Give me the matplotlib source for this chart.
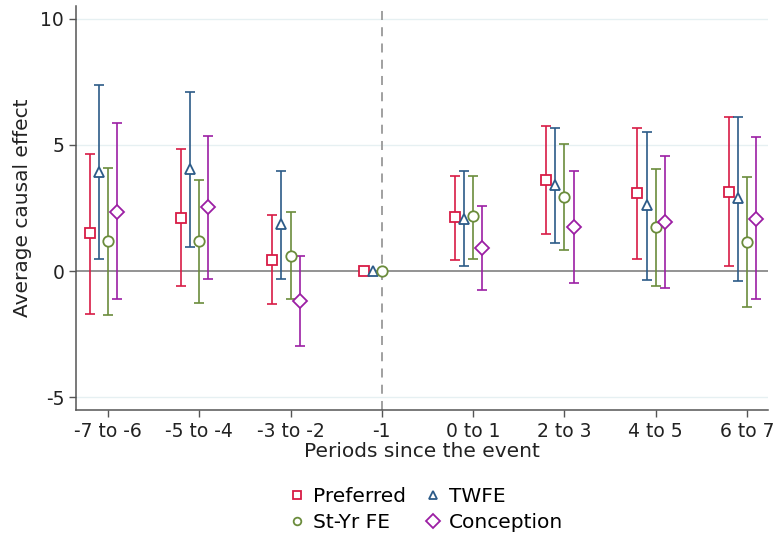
import matplotlib
matplotlib.use("Agg")
import matplotlib.pyplot as plt
from matplotlib.lines import Line2D

# periods since the event
periods = ["-7 to -6", "-5 to -4", "-3 to -2", "-1", "0 to 1", "2 to 3", "4 to 5", "6 to 7"]

# point estimates, lower and upper CI bounds (None = not estimated)
preferred = [1.52, 2.09, 0.45, 0.0, 2.13, 3.61, 3.08, 3.13]
preferred_lo = [-1.68, -0.60, -1.32, None, 0.42, 1.45, 0.48, 0.19]
preferred_hi = [4.63, 4.83, 2.23, None, 3.78, 5.73, 5.66, 6.12]

twfe = [3.94, 4.05, 1.87, 0.0, 2.08, 3.39, 2.62, 2.91]
twfe_lo = [0.48, 0.97, -0.30, None, 0.19, 1.10, -0.36, -0.41]
twfe_hi = [7.35, 7.10, 3.98, None, 3.98, 5.65, 5.49, 6.12]

styr = [1.20, 1.20, 0.60, 0.0, 2.18, 2.95, 1.73, 1.15]
styr_lo = [-1.75, -1.26, -1.12, None, 0.49, 0.85, -0.61, -1.43]
styr_hi = [4.10, 3.61, 2.35, None, 3.78, 5.05, 4.05, 3.72]

conception = [2.34, 2.53, -1.19, None, 0.90, 1.76, 1.93, 2.05]
conception_lo = [-1.12, -0.30, -2.98, None, -0.73, -0.48, -0.66, -1.12]
conception_hi = [5.85, 5.36, 0.60, None, 2.59, 3.97, 4.56, 5.29]

series = [
    ("Preferred", preferred, preferred_lo, preferred_hi, "#d81b45", "s", 7, 6, -0.2),
    ("TWFE", twfe, twfe_lo, twfe_hi, "#2c5b88", "^", 7.5, 6, -0.1),
    ("St-Yr FE", styr, styr_lo, styr_hi, "#6b8c3c", "o", 7.5, 5.5, 0.0),
    ("Conception", conception, conception_lo, conception_hi, "#9c1fa4", "D", 7.5, 7, 0.1),
]

fig = plt.figure(figsize=(7.75, 5.37), dpi=100)
ax = fig.add_axes([0.098, 0.2365, 0.893, 0.7525])

for y in [-5, 5, 10]:
    ax.axhline(y, color="#e6f0f2", lw=1.0, zorder=0)
ax.axhline(0, color="#8a8a8a", lw=1.3, zorder=1)
ax.axvline(3, color="#999999", lw=1.3, ls=(0, (5, 4)), zorder=1)

for name, est, lo, hi, color, marker, ms, lms, off in series:
    for i, v in enumerate(est):
        if v is None:
            continue
        x = i + off
        if lo[i] is not None:
            ax.errorbar(x, v, yerr=[[v - lo[i]], [hi[i] - v]], fmt="none",
                        ecolor=color, elinewidth=1.2, capsize=3.6, capthick=1.2, zorder=2)
        ax.plot(x, v, marker=marker, ms=ms, mfc="white", mec=color, mew=1.3,
                ls="none", zorder=3)

ax.set_xlim(-0.35, 7.23)
ax.set_ylim(-5.5, 10.5)
ax.set_xticks(range(len(periods)))
ax.set_xticklabels(periods)
ax.set_yticks([-5, 0, 5, 10])
ax.set_yticklabels(["-5", "0", "5", "10"])
ax.tick_params(labelsize=13.5, color="#555555", length=5, width=1, labelcolor="#222222")
for s in ["top", "right"]:
    ax.spines[s].set_visible(False)
for s in ["left", "bottom"]:
    ax.spines[s].set_color("#555555")
    ax.spines[s].set_linewidth(1.1)

ax.set_xlabel("Periods since the event", fontsize=14.5, color="#222222", labelpad=1)
ax.set_ylabel("Average causal effect", fontsize=14.5, color="#222222", labelpad=6)

# legend with marker-only handles, filled row-wise
handles = {}
for name, est, lo, hi, color, marker, ms, lms, off in series:
    handles[name] = Line2D([], [], marker=marker, ms=lms, mfc="white", mec=color,
                           mew=1.3, ls="none")
order = ["Preferred", "St-Yr FE", "TWFE", "Conception"]
fig.legend([handles[n] for n in order], order, loc="center", bbox_to_anchor=(0.547, 0.052),
           ncol=2, frameon=False, fontsize=14.5, handletextpad=0.2, columnspacing=0.75,
           labelspacing=0.35, handlelength=1.2)

fig.savefig("out.png", dpi=100)
